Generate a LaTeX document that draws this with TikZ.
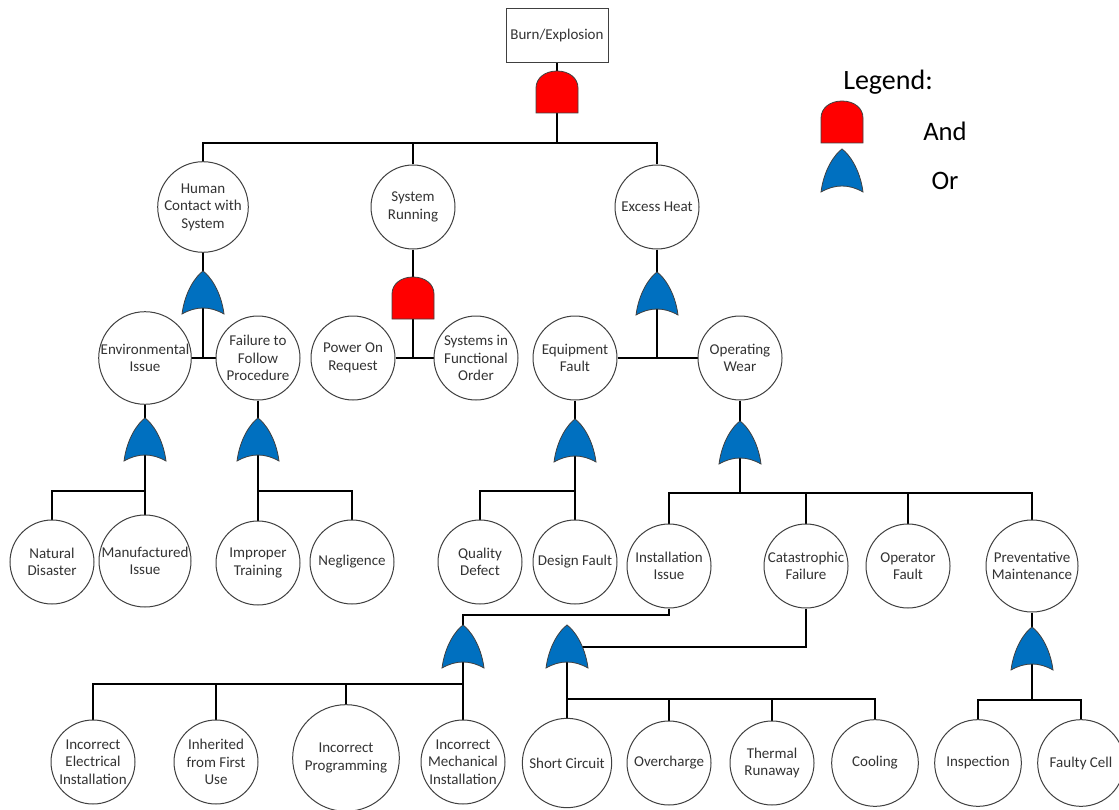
\documentclass[tikz,border=0pt]{standalone}
\usepackage{fontspec}
\setmainfont{Carlito}
\usetikzlibrary{backgrounds}
\definecolor{andred}{HTML}{FF0000}
\definecolor{orblue}{HTML}{0070C0}
\definecolor{edgegray}{HTML}{404040}
\definecolor{txtgray}{HTML}{333333}
\tikzset{
  ev/.style={circle, draw=edgegray, line width=0.75pt, fill=white, minimum size=63pt, inner sep=0pt, align=center, text=txtgray, font=\fontsize{11.25}{13.1}\selectfont},
  evbig/.style={ev, minimum size=69pt},
  evhuge/.style={ev, minimum size=80pt},
  topbox/.style={rectangle, draw=edgegray, line width=0.75pt, fill=white, minimum width=76.5pt, minimum height=40.5pt, inner sep=0pt, text=txtgray, font=\fontsize{11.25}{13.1}\selectfont},
  conn/.style={draw=black, line width=0.8pt},
  gateline/.style={draw=edgegray, line width=0.6pt},
  legtext/.style={font=\fontsize{20}{24}\selectfont, text=black},
  andgate/.pic={\path[gateline, fill=andred] (-21,21) -- (-21,-4) .. controls (-21,-14) and (-12,-21) .. (0,-21) .. controls (12,-21) and (21,-14) .. (21,-4) -- (21,21) -- cycle;},
  orgate/.pic={\path[gateline, fill=orblue] (-21,21) .. controls (-18,-2) and (-7,-17) .. (0,-22) .. controls (7,-17) and (18,-2) .. (21,21) .. controls (7,13) and (-7,13) .. (-21,21) -- cycle;}
}
\begin{document}
\begin{tikzpicture}[x=0.75pt, y=-0.75pt]
\useasboundingbox (0,0) rectangle (1119,809);

% top event
\node[topbox] (top) at (557,36) {Burn/Explosion};
\coordinate (g0) at (557,92);
\coordinate (b0) at (557,143);

% level 1
\node[ev] (hc) at (203,207) {Human\\Contact with\\System};
\node[ev] (sr) at (413,207) {System\\Running};
\node[ev] (eh) at (657,207) {Excess Heat};

\coordinate (g1) at (203,293);
\coordinate (g2) at (413,298);
\coordinate (g3) at (657,294);

% level 2
\node[evbig] (env) at (145,358) {Environmental\\Issue};
\node[ev] (ffp) at (258,358) {Failure to\\Follow\\Procedure};
\node[ev] (por) at (353,358) {Power On\\Request};
\node[ev] (sfo) at (476,358) {Systems in\\Functional\\Order};
\node[ev] (ef) at (575,358) {Equipment\\Fault};
\node[ev] (ow) at (740,358) {Operating\\Wear};

\coordinate (g4) at (145,440);
\coordinate (g5) at (258,440);
\coordinate (g6) at (575,441);
\coordinate (g7) at (740,443);
\coordinate (b4) at (145,491);
\coordinate (b5) at (258,491);
\coordinate (b6) at (575,491);
\coordinate (b7) at (740,493);

% level 3
\node[ev] (nd) at (52,562) {Natural\\Disaster};
\node[evbig] (mi) at (145,561) {Manufactured\\Issue};
\node[ev] (it) at (258,563) {Improper\\Training};
\node[ev] (neg) at (352,562) {Negligence};
\node[ev] (qd) at (480,562) {Quality\\Defect};
\node[ev] (df) at (575,562) {Design Fault};
\node[ev] (ii) at (669,566) {Installation\\Issue};
\node[ev] (cf) at (806,566) {Catastrophic\\Failure};
\node[ev] (of) at (908,566) {Operator\\Fault};
\node[evbig] (pm) at (1032,566) {Preventative\\Maintenance};

\coordinate (g8) at (463,647);
\coordinate (g9) at (567,647);
\coordinate (g10) at (1032,649);
\coordinate (b8t) at (463,615);
\coordinate (b8) at (463,684);
\coordinate (b9) at (567,699);
\coordinate (b10) at (1032,700);

% level 4
\node[ev] (iei) at (93,762) {Incorrect\\Electrical\\Installation};
\node[ev] (ifu) at (216,762) {Inherited\\from First\\Use};
\node[evhuge] (ip) at (346,758) {Incorrect\\Programming};
\node[ev] (imi) at (463,762) {Incorrect\\Mechanical\\Installation};
\node[ev, minimum size=67pt] (sc) at (567,763) {Short Circuit};
\node[ev] (oc) at (669,763) {Overcharge};
\node[ev] (tr) at (772,763) {Thermal\\Runaway};
\node[ev, minimum size=65pt] (cool) at (875,763) {Cooling};
\node[ev, minimum size=65pt] (insp) at (978,763) {Inspection};
\node[ev, minimum size=65pt] (fc) at (1081,763) {Faulty Cell};

% gates
\pic at (g0) {andgate};
\pic at (g1) {orgate};
\pic at (g2) {andgate};
\pic at (g3) {orgate};
\pic at (g4) {orgate};
\pic at (g5) {orgate};
\pic at (g6) {orgate};
\pic at (g7) {orgate};
\pic at (g8) {orgate};
\pic at (g9) {orgate};
\pic at (g10) {orgate};

% legend
\node[legtext, font=\fontsize{21}{25}\selectfont] (leg) at (888,82) {Legend:};
\coordinate (lga) at (842,122);
\coordinate (lgo) at (842,171);
\pic at (lga) {andgate};
\pic at (lgo) {orgate};
\node[legtext] (lat) at (945,131) {And};
\node[legtext] (lot) at (945,181) {Or};

% connectors
\begin{scope}[on background layer]
\draw[conn] (top) -- (g0) -- (b0);
\draw[conn] (hc) |- (b0) -| (eh);
\draw[conn] (sr) -- (sr |- b0);

\draw[conn] (hc) -- (g1) -- (g1 |- ffp);
\draw[conn] (env) -- (ffp);
\draw[conn] (sr) -- (g2) -- (g2 |- por);
\draw[conn] (por) -- (sfo);
\draw[conn] (eh) -- (g3) -- (g3 |- ef);
\draw[conn] (ef) -- (ow);

\draw[conn] (env) -- (g4) -- (mi);
\draw[conn] (nd) |- (b4);
\draw[conn] (ffp) -- (g5) -- (it);
\draw[conn] (neg) |- (b5);
\draw[conn] (ef) -- (g6) -- (df);
\draw[conn] (qd) |- (b6);

\draw[conn] (ow) -- (g7) -- (b7);
\draw[conn] (ii) |- (b7) -| (pm);
\draw[conn] (cf) -- (cf |- b7);
\draw[conn] (of) -- (of |- b7);

\draw[conn] (ii) |- (b8t) -- (g8) -- (imi);
\draw[conn] (iei) |- (b8);
\draw[conn] (ifu) -- (ifu |- b8);
\draw[conn] (ip) -- (ip |- b8);

\draw[conn] (cf) |- (g9);
\draw[conn] (g9) -- (sc);
\draw[conn] (b9) -| (cool);
\draw[conn] (oc) -- (oc |- b9);
\draw[conn] (tr) -- (tr |- b9);

\draw[conn] (pm) -- (g10) -- (b10);
\draw[conn] (insp) |- (b10) -| (fc);
\end{scope}
\end{tikzpicture}
\end{document}
